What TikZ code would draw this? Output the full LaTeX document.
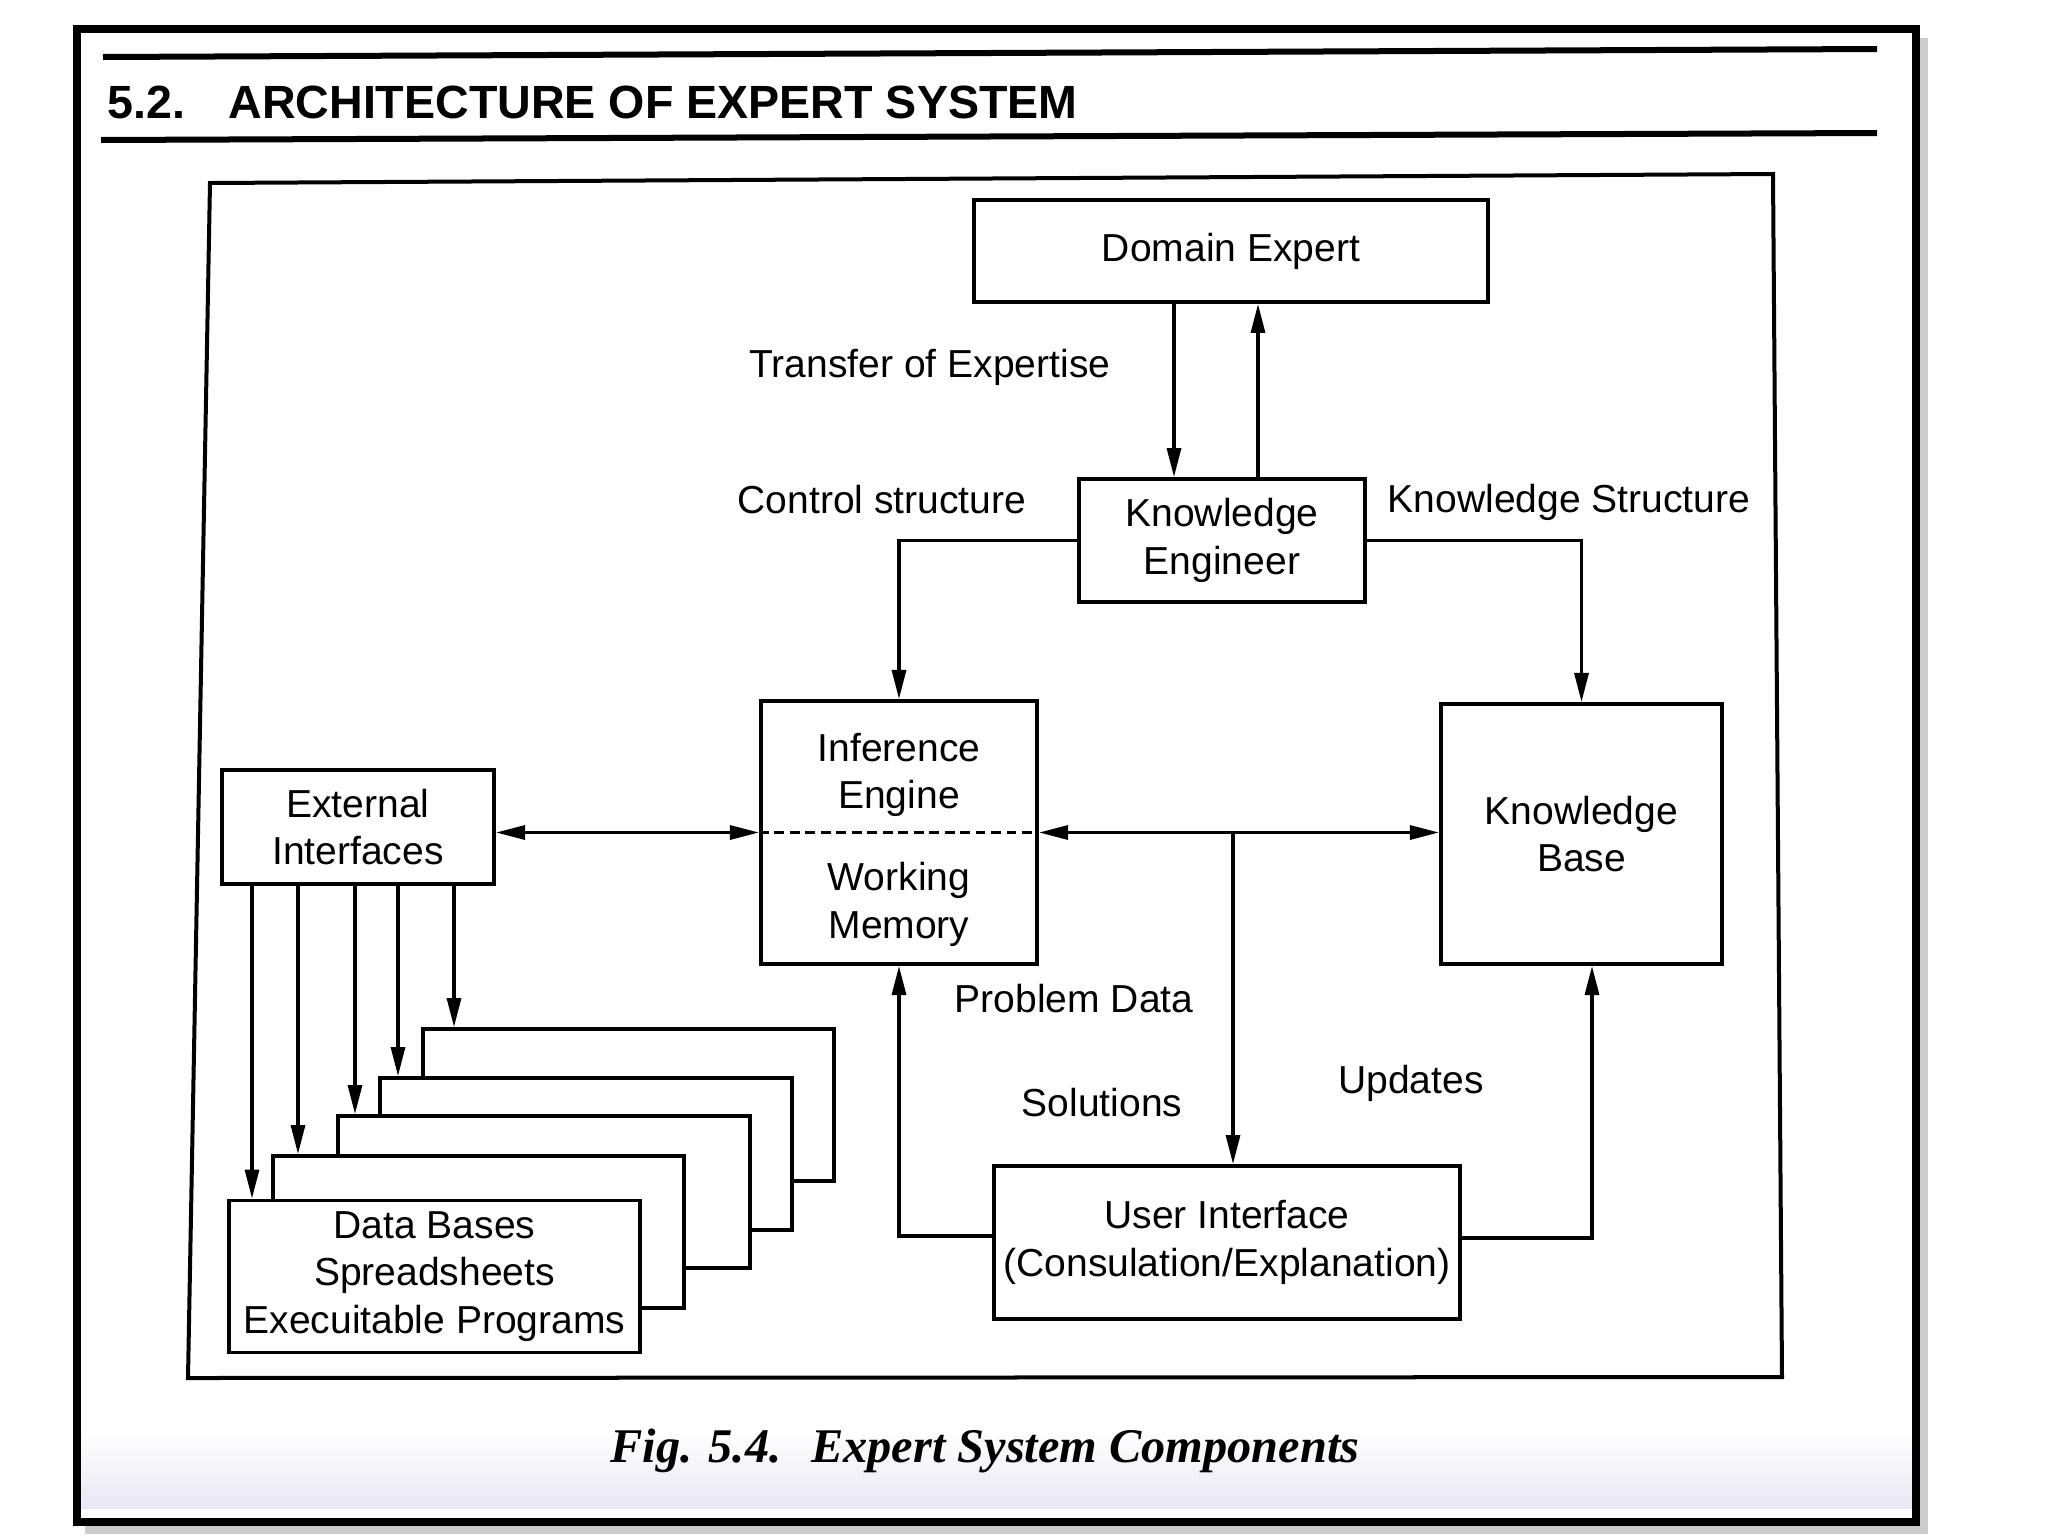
\documentclass[tikz,border=0pt]{standalone}
\usepackage{fontspec}
\setmainfont{Liberation Sans}
\newfontfamily\capserif{Liberation Serif}
\usetikzlibrary{arrows.meta,calc}
\newcommand\diagfont{\fontsize{11.1pt}{13.6pt}\selectfont}
\newcommand\headfont{\fontsize{13.25pt}{15pt}\selectfont\bfseries}
\newcommand\capfontsz{\capserif\fontsize{13.75pt}{16pt}\selectfont\bfseries\itshape}
\definecolor{lav}{RGB}{233,231,243}
\begin{document}
\begin{tikzpicture}[x=0.01cm,y=-0.01cm,
  box/.style={draw, line width=1.1pt, fill=white, inner sep=0pt, align=center, font=\diagfont},
  txt/.style={inner sep=0pt, align=center, font=\diagfont},
  conn/.style={line width=0.9pt},
  tip/.tip={Triangle[length=0.29cm,width=0.14cm]},
  arr/.style={conn, -tip},
  darr/.style={conn, tip-tip},
  lbl/.style={font=\diagfont, anchor=base, inner sep=0pt},
  dbbox/.style={box, minimum width=4.11cm, minimum height=1.52cm},
]
\useasboundingbox (0,0) rectangle (2048,1536);
% page background and bottom tint
\fill[white] (0,0) rectangle (2048,1536);
\shade[top color=white, bottom color=lav] (81,1430) rectangle (1912,1508);
% shadow and outer frame
\fill[gray!40] (1920,38) rectangle (1928,1534);
\fill[gray!40] (85,1526) rectangle (1928,1534);
\draw[line width=0.08cm] (77,29) rectangle (1916,1522);
% header
\draw[line width=0.06cm] (103,57) -- (1877,49);
\draw[line width=0.06cm] (101,140) -- (1877,133);
\node[anchor=base west, inner sep=0pt, font=\headfont] (title) at (107,118)
  {5.2.\hspace{0.43cm}ARCHITECTURE OF EXPERT SYSTEM};
% inner diagram frame
\draw[line width=0.04cm] (210,183) -- (1773,174) -- (1782,1377) -- (188,1378) -- cycle;

% main boxes
\node[box, minimum width=5.14cm, minimum height=1.02cm] (de) at (1231,251) {Domain Expert};
\node[box, minimum width=2.86cm, minimum height=1.23cm] (ke) at (1222,540.5) {Knowledge\\Engineer};
\node[box, minimum width=2.76cm, minimum height=2.63cm] (ie) at (899,832.5) {};
\node[txt] (iet) at (899,775) {Inference\\Engine};
\node[txt] (wmt) at (899,904) {Working\\Memory};
\draw[line width=0.9pt, dash pattern=on 2.8pt off 1.6pt] (ie.west) -- (ie.east);
\node[box, minimum width=2.81cm, minimum height=2.60cm] (kb) at (1581.5,834) {Knowledge\\Base};
\node[box, minimum width=2.72cm, minimum height=1.14cm] (ei) at (358,827) {External\\Interfaces};
\node[box, minimum width=4.66cm, minimum height=1.53cm] (ui) at (1227,1242.5) {User Interface\\(Consulation/Explanation)};

% stacked data boxes (back to front)
\node[dbbox] (db5) at (628.5,1105) {};
\node[dbbox] (db4) at (586,1154) {};
\node[dbbox] (db3) at (544,1192) {};
\node[dbbox] (db2) at (478.5,1232) {};
\node[dbbox] (db1) at (434.5,1276.5) {Data Bases\\Spreadsheets\\Execuitable Programs};

% connectors
\draw[arr] (1174,0 |- de.south) -- (1174,0 |- ke.north);
\draw[arr] (1258,0 |- ke.north) -- (1258,0 |- de.south);
\draw[arr] (ke.west) -| (ie.north);
\draw[arr] (ke.east) -| (kb.north);
\draw[darr] (ie.east) -- (ie.east -| kb.west);
\coordinate (jn) at (1233,0 |- ie.east);
\draw[arr] (jn) -- (jn |- ui.north);
\draw[darr] (ie.west -| ei.east) -- (ie.west);
\draw[arr] (0,1236 -| ui.west) -| (ie.south);
\draw[arr] (0,1238 -| ui.east) -| (1592,0 |- kb.south);
\draw[arr] (252,0 |- ei.south) -- (252,0 |- db1.north);
\draw[arr] (298,0 |- ei.south) -- (298,0 |- db2.north);
\draw[arr] (355,0 |- ei.south) -- (355,0 |- db3.north);
\draw[arr] (398,0 |- ei.south) -- (398,0 |- db4.north);
\draw[arr] (454,0 |- ei.south) -- (454,0 |- db5.north);

% labels
\node[lbl] (l1) at (930,377) {Transfer of Expertise};
\node[lbl] (l2) at (882,513) {Control structure};
\node[lbl] (l3) at (1569,512) {Knowledge Structure};
\node[lbl] (l4) at (1074,1012) {Problem Data};
\node[lbl] (l5) at (1102,1116) {Solutions};
\node[lbl] (l6) at (1411,1093) {Updates};

% caption
\node[anchor=base west, inner sep=0pt, font=\capfontsz] (cap) at (610,1462)
  {Fig. 5.4.\hspace{0.3cm}Expert System Components};
\end{tikzpicture}
\end{document}
